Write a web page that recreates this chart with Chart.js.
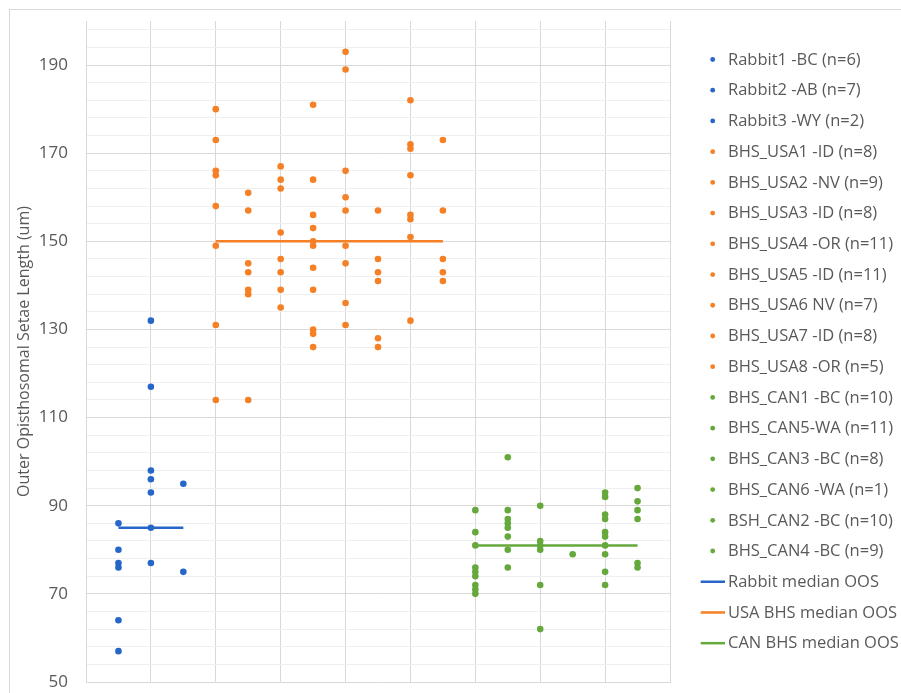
<!DOCTYPE html>
<html><head><meta charset="utf-8">
<script src="https://cdn.jsdelivr.net/npm/chart.js@4/dist/chart.umd.min.js"></script>
<style>html,body{margin:0;padding:0;background:#fff;} #wrap{position:relative;width:901px;height:693px;}</style>
</head><body><div id="wrap"><canvas id="c" width="901" height="693"></canvas></div>
<script>
// ---- data ----
const seriesNames = [
  'Rabbit1 -BC (n=6)', 'Rabbit2 -AB (n=7)', 'Rabbit3 -WY (n=2)',
  'BHS_USA1 -ID (n=8)', 'BHS_USA2 -NV (n=9)', 'BHS_USA3 -ID (n=8)', 'BHS_USA4 -OR (n=11)',
  'BHS_USA5 -ID (n=11)', 'BHS_USA6 NV (n=7)', 'BHS_USA7 -ID (n=8)', 'BHS_USA8 -OR (n=5)',
  'BHS_CAN1 -BC (n=10)', 'BHS_CAN5-WA (n=11)', 'BHS_CAN3 -BC (n=8)', 'BHS_CAN6 -WA (n=1)',
  'BSH_CAN2 -BC (n=10)', 'BHS_CAN4 -BC (n=9)'
];
const seriesGroup = ['rabbit','rabbit','rabbit','usa','usa','usa','usa','usa','usa','usa','usa','can','can','can','can','can','can'];
const seriesX = [1,2,3,4,5,6,7,8,9,10,11,12,13,14,15,16,17];

const rabbit1 = [86, 80, 77, 76, 64, 57];
const rabbit2 = [132, 117, 98, 96, 93, 85, 77];
const rabbit3 = [95, 75];
const usa1 = [180, 173, 166, 165, 158, 149, 131, 114];
const usa2 = [161, 157, 145, 143, 139, 138, 114];
const usa3 = [167, 164, 162, 152, 146, 143, 139, 135];
const usa4 = [181, 164, 156, 153, 150, 149, 144, 139, 130, 129, 126];
const usa5 = [193, 189, 166, 160, 157, 149, 145, 136, 131];
const usa6 = [157, 146, 143, 141, 128, 126];
const usa7 = [182, 172, 171, 165, 156, 155, 151, 132];
const usa8 = [173, 157, 146, 143, 141];
const can1 = [89, 84, 81, 76, 75, 74, 72, 71, 70];
const can5 = [101, 89, 87, 86, 85, 83, 80, 76];
const can3 = [90, 82, 81, 80, 72, 62];
const can6 = [79];
const can2 = [93, 92, 88, 87, 84, 83, 81, 79, 75, 72];
const can4 = [94, 91, 89, 87, 77, 76];
const seriesValues = [rabbit1, rabbit2, rabbit3, usa1, usa2, usa3, usa4, usa5, usa6, usa7, usa8,
                      can1, can5, can3, can6, can2, can4];

const medianNames = ['Rabbit median OOS', 'USA BHS median OOS', 'CAN BHS median OOS'];
const medianGroup = ['rabbit', 'usa', 'can'];
const medianValues = [85, 150, 81];
const medianStartX = [1, 4, 12];
const medianEndX = [3, 11, 17];

const yTickLabels = [50, 70, 90, 110, 130, 150, 170, 190];

// ---- styles ----
const groupColor = { rabbit: '#2566c8', usa: '#f58025', can: '#65a83c' };
const textColor = '#595959';
const FONT = '"Open Sans", "Liberation Sans", sans-serif';

const datasets = [];
seriesNames.forEach((name, i) => {
  datasets.push({
    type: 'scatter', label: name,
    data: seriesValues[i].map(v => ({ x: seriesX[i], y: v })),
    backgroundColor: groupColor[seriesGroup[i]],
    borderColor: groupColor[seriesGroup[i]],
    pointRadius: 3.3, pointBorderWidth: 0, pointHoverRadius: 3.3,
    order: 1, _legendKind: 'dot'
  });
});
medianNames.forEach((name, i) => {
  datasets.push({
    type: 'line', label: name,
    data: [{ x: medianStartX[i], y: medianValues[i] }, { x: medianEndX[i], y: medianValues[i] }],
    borderColor: groupColor[medianGroup[i]],
    backgroundColor: groupColor[medianGroup[i]],
    borderWidth: 2.5, pointRadius: 0, fill: false, tension: 0,
    order: 0, _legendKind: 'line'
  });
});

const framePlugin = {
  id: 'frame',
  beforeDraw(chart) {
    const ctx = chart.ctx;
    ctx.save();
    ctx.strokeStyle = '#d9d9d9';
    ctx.lineWidth = 1;
    ctx.strokeRect(9.5, 9.5, 1000, 1000);
    ctx.restore();
  }
};

const legendPlugin = {
  id: 'customLegend',
  afterDraw(chart) {
    const ctx = chart.ctx;
    ctx.save();
    ctx.font = '16.5px ' + FONT;
    ctx.textBaseline = 'middle';
    ctx.textAlign = 'left';
    chart.data.datasets.forEach((ds, i) => {
      const y = 59.5 + i * 30.72;
      if (ds._legendKind === 'dot') {
        ctx.fillStyle = ds.backgroundColor;
        ctx.beginPath();
        ctx.arc(712.7, y, 2.4, 0, Math.PI * 2);
        ctx.fill();
      } else {
        ctx.strokeStyle = ds.borderColor;
        ctx.lineWidth = 2.5;
        ctx.beginPath();
        ctx.moveTo(700.7, y);
        ctx.lineTo(725, y);
        ctx.stroke();
      }
      ctx.fillStyle = textColor;
      ctx.fillText(ds.label, 728, y + 0.5);
    });
    ctx.restore();
  }
};

function draw() {
  new Chart(document.getElementById('c'), {
    type: 'scatter',
    data: { datasets },
    plugins: [framePlugin, legendPlugin],
    options: {
      responsive: false,
      animation: false,
      events: [],
      layout: { padding: { left: 0, top: 21, right: 231, bottom: 11 } },
      plugins: { legend: { display: false }, tooltip: { enabled: false } },
      scales: {
        x: {
          type: 'linear', min: 0, max: 18,
          ticks: { display: false, stepSize: 2 },
          grid: { color: '#d9d9d9', drawTicks: false, lineWidth: 1 },
          border: { display: true, color: '#d9d9d9' },
          afterFit(scale) { scale.height = 0; scale.paddingLeft = 0; scale.paddingRight = 0; }
        },
        y: {
          type: 'linear', min: 50, max: 200,
          afterBuildTicks(scale) {
            const t = [];
            for (let v = 50; v < 200; v += 4) t.push({ value: v });
            scale.ticks = t;
          },
          ticks: {
            autoSkip: false, padding: 18, color: textColor,
            font: { family: FONT, size: 17 },
            callback: (v) => yTickLabels.includes(v) ? String(v) : ''
          },
          grid: {
            drawTicks: false,
            color: (ctx) => (ctx.tick && yTickLabels.includes(ctx.tick.value)) ? '#d9d9d9' : '#efefef'
          },
          border: { display: true, color: '#d9d9d9' },
          title: {
            display: true, text: 'Outer Opisthosomal Setae Length (um)', color: textColor,
            font: { family: FONT, size: 16 }, padding: { top: 15, bottom: 0 }
          },
          afterFit(scale) { scale.width = 86; scale.paddingTop = 0; scale.paddingBottom = 0; }
        }
      }
    }
  });
}
if (document.fonts && document.fonts.load) {
  Promise.all([document.fonts.load('16px "Open Sans"'), document.fonts.load('17px "Open Sans"')]).then(draw, draw);
} else { draw(); }
</script></body></html>
